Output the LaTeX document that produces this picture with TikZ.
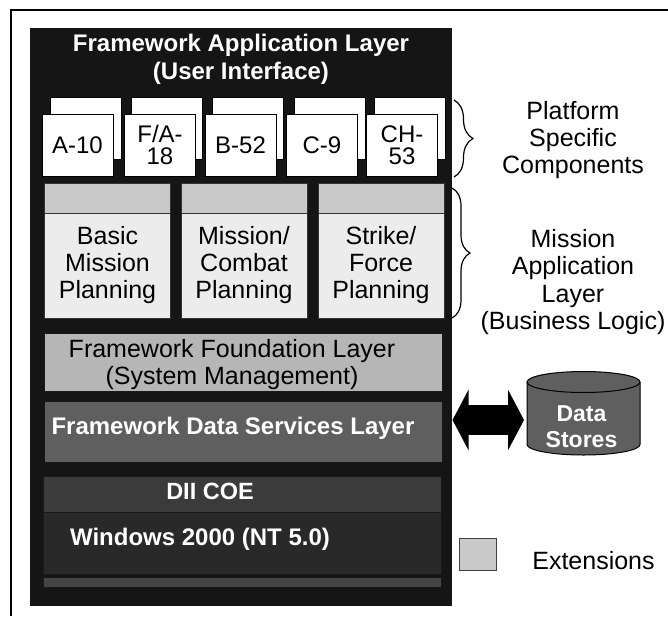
\documentclass[tikz,border=0pt]{standalone}
\usepackage{fontspec}
\setmainfont{Liberation Sans}
\usetikzlibrary{arrows.meta,decorations.pathreplacing}

\definecolor{stackblack}{HTML}{151515}
\definecolor{extgray}{HTML}{C9C9C9}
\definecolor{lightgray}{HTML}{ECECEC}
\definecolor{foundgray}{HTML}{B6B6B6}
\definecolor{datagray}{HTML}{5F5F5F}
\definecolor{coegray}{HTML}{3B3B3B}
\definecolor{wingray}{HTML}{292929}
\definecolor{stripgray}{HTML}{444444}

\begin{document}
\begin{tikzpicture}[x=1pt, y=-1pt, line width=1pt,
    font=\fontsize{25}{27}\selectfont,
    box/.style={draw=black, inner sep=0pt, align=center},
    platbox/.style={box, fill=white, minimum width=71pt, minimum height=62pt,
        font=\fontsize{24}{22}\selectfont},
    extbox/.style={box, draw=black!80, fill=extgray},
    mbox/.style={box, draw=black!80, fill=lightgray, minimum width=126pt, minimum height=105pt},
    layer/.style={box, draw=black!90, minimum width=398pt},
    whitetext/.style={white, font=\bfseries\fontsize{24}{28}\selectfont, align=center}]
    \useasboundingbox (0,0) rectangle (668,616);

    % frame
    \draw[line width=2pt] (11,616) -- (11,10) -- (668,10);

    % dark stack
    \node[fill=stackblack, inner sep=0pt, minimum width=422pt, minimum height=578pt] (stack) at (241,317) {};
    \node[whitetext] (title) at (241,59) {Framework Application Layer\\(User Interface)};

    % platform specific components
    \node[platbox] (a10b) at (85.5,128) {};
    \node[platbox] (fa18b) at (166.5,128) {};
    \node[platbox] (b52b) at (248,128) {};
    \node[platbox] (c9b) at (329.5,128) {};
    \node[platbox] (ch53b) at (410,128) {};
    \node[platbox] (a10) at (77.5,145) {A-10};
    \node[platbox] (fa18) at (160,145) {F/A-\\18};
    \node[platbox] (b52) at (240.5,145) {B-52};
    \node[platbox] (c9) at (322,145) {C-9};
    \node[platbox] (ch53) at (402,145) {CH-\\53};

    % mission application layer
    \node[extbox, minimum width=126pt, minimum height=30pt] (basicx) at (107.5,198) {};
    \node[extbox, minimum width=126pt, minimum height=30pt] (combatx) at (244,198) {};
    \node[extbox, minimum width=126pt, minimum height=30pt] (strikex) at (381,198) {};
    \node[mbox] (basic) at (107.5,265.5) {Basic\\Mission\\Planning};
    \node[mbox] (combat) at (244,265.5) {Mission/\\Combat\\Planning};
    \node[mbox] (strike) at (381,265.5) {Strike/\\Force\\Planning};

    % lower layers
    \node[layer, fill=foundgray, minimum height=58pt] (found) at (243.5,362) {};
    \node[align=center] (foundtext) at (232,365) {Framework Foundation Layer\\(System Management)};
    \node[layer, fill=datagray, minimum height=61pt] (dsl) at (243.5,431.5) {};
    \node[whitetext] (dsltext) at (233,428) {Framework Data Services Layer};
    \node[layer, fill=coegray, minimum height=36pt] (coe) at (242.5,494) {};
    \node[whitetext, font=\bfseries\fontsize{23.5}{28}\selectfont] (coetext) at (210,491) {DII COE};
    \node[layer, fill=wingray, minimum height=62pt] (win) at (242.5,543) {};
    \node[whitetext] (wintext) at (200,539) {Windows 2000 (NT 5.0)};
    \node[layer, fill=stripgray, minimum height=10pt] (strip) at (242.5,582) {};

    % braces and side labels
    \draw[line width=1.2pt, decorate, decoration={brace, amplitude=19pt}] (454,100) -- (454,177);
    \draw[line width=1.2pt, decorate, decoration={brace, amplitude=18pt}] (452,188) -- (452,318);
    \node[align=center] (platlabel) at (573,140) {Platform\\Specific\\Components};
    \node[align=center, font=\fontsize{25}{27.5}\selectfont] (misslabel) at (573,282) {Mission\\Application\\Layer\\(Business Logic)};

    % data stores
    \fill[datagray] (527,382) -- (527,444.5) arc[start angle=180, end angle=360, x radius=56.5pt, y radius=10.5pt]
        -- (640,382) arc[start angle=0, end angle=180, x radius=56.5pt, y radius=10.5pt] -- cycle;
    \draw (527,382) -- (527,444.5) arc[start angle=180, end angle=360, x radius=56.5pt, y radius=10.5pt] -- (640,382);
    \draw (583.5,382) ellipse [x radius=56.5pt, y radius=10.5pt];
    \node[whitetext, font=\bfseries\fontsize{23}{26}\selectfont] (stores) at (581.5,427) {Data\\Stores};
    \coordinate (storesport) at (524,420);
    \draw[line width=30pt, {Triangle[length=16pt,width=60pt]}-{Triangle[length=16pt,width=60pt]}]
        (stack.east |- storesport) -- (storesport);

    % legend
    \node[extbox, draw=black!75, minimum width=37pt, minimum height=32pt] (legend) at (477.5,554) {};
    \node (legendtext) at (593.5,561) {Extensions};
\end{tikzpicture}
\end{document}
